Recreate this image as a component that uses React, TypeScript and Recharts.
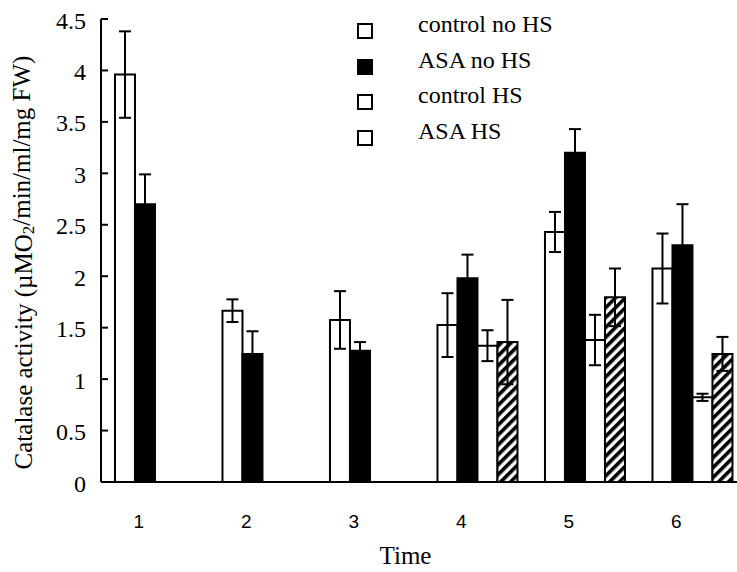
import { BarChart, Bar, XAxis, YAxis, ErrorBar, Legend, Label } from "recharts";

const times = ["1", "2", "3", "4", "5", "6"];
const controlNoHS = [3.96, 1.665, 1.575, 1.525, 2.43, 2.075];
const controlNoHSErr = [0.42, 0.11, 0.28, 0.31, 0.195, 0.34];
const asaNoHS = [2.7, 1.245, 1.275, 1.98, 3.2, 2.3];
const asaNoHSErr = [0.29, 0.22, 0.085, 0.23, 0.23, 0.4];
const controlHS = [null, null, null, 1.325, 1.38, 0.823];
const controlHSErr = [null, null, null, 0.15, 0.245, 0.035];
const asaHS = [null, null, null, 1.36, 1.795, 1.245];
const asaHSErr = [null, null, null, 0.41, 0.28, 0.165];
const yTicks = [0, 0.5, 1, 1.5, 2, 2.5, 3, 3.5, 4, 4.5];

const data = times.map((t, i) => ({
  time: t,
  ctrlNo: controlNoHS[i],
  ctrlNoErr: controlNoHSErr[i],
  asaNo: asaNoHS[i],
  asaNoErr: asaNoHSErr[i],
  ctrlHS: controlHS[i],
  ctrlHSErr: controlHSErr[i],
  asaHS: asaHS[i],
  asaHSErr: asaHSErr[i],
}));

const series = [
  { key: "ctrlNo", err: "ctrlNoErr", name: "control no HS", fill: "#fff", legendFill: "#fff" },
  { key: "asaNo", err: "asaNoErr", name: "ASA no HS", fill: "#000", legendFill: "#000" },
  { key: "ctrlHS", err: "ctrlHSErr", name: "control HS", fill: "#fff", legendFill: "#fff" },
  { key: "asaHS", err: "asaHSErr", name: "ASA HS", fill: "url(#hatch)", legendFill: "#fff" },
];

const serif = "'Liberation Serif', 'Times New Roman', serif";
const sans = "'Liberation Sans', Arial, sans-serif";

function YTick({ x, y, payload }: any) {
  return (
    <g>
      <line x1={x + 15} x2={x + 22} y1={y} y2={y} stroke="#000" strokeWidth={2} />
      <text x={x} y={y} dy="0.4em" textAnchor="end" fontFamily={serif} fontSize={24} fill="#000">
        {payload.value}
      </text>
    </g>
  );
}

function XTick({ x, y, payload }: any) {
  return (
    <text x={x - 16} y={y + 46} textAnchor="middle" fontFamily={sans} fontSize={19} fill="#000">
      {payload.value}
    </text>
  );
}

function YLabel({ viewBox }: any) {
  const cx = viewBox.x + 13;
  const cy = viewBox.y + viewBox.height / 2 + 12;
  return (
    <text
      x={cx}
      y={cy}
      transform={`rotate(-90, ${cx}, ${cy})`}
      textAnchor="middle"
      dominantBaseline="central"
      fontFamily={serif}
      fontSize={25}
      fill="#000"
      style={{ fill: "#000" }}
    >
      Catalase activity (µMO
      <tspan fontSize={17} dy="0.3em">2</tspan>
      <tspan dy="-0.3em">/min/ml/mg FW)</tspan>
    </text>
  );
}

function TimeLabel({ viewBox }: any) {
  return (
    <text
      x={viewBox.x + viewBox.width / 2 - 18}
      y={viewBox.y + 82}
      textAnchor="middle"
      fontFamily={serif}
      fontSize={25}
      fill="#000"
    >
      Time
    </text>
  );
}

function LegendBox() {
  return (
    <div style={{ fontFamily: serif, fontSize: 24, color: "#000" }}>
      {series.map((s) => (
        <div key={s.key} style={{ position: "relative", height: 35.5, width: 230 }}>
          <div
            style={{
              position: "absolute",
              left: 0,
              top: 8,
              width: 12,
              height: 12,
              border: "2px solid #000",
              background: s.legendFill,
            }}
          />
          <div style={{ position: "absolute", left: 61, top: -3, lineHeight: "24px", whiteSpace: "nowrap" }}>
            {s.name}
          </div>
        </div>
      ))}
    </div>
  );
}

export default function App() {
  return (
    <div
      style={{
        position: "absolute",
        left: 0,
        top: 0,
        width: 737,
        height: 572,
        overflow: "hidden",
        background: "#fff",
      }}
    >
      <BarChart
        width={760}
        height={572}
        data={data}
        margin={{ top: 19, right: 14, bottom: 0, left: 10 }}
        barCategoryGap="13%"
        barGap={0}
      >
        <defs>
          <pattern id="hatch" patternUnits="userSpaceOnUse" width={7} height={7} patternTransform="rotate(45)">
            <rect width={7} height={7} fill="#fff" />
            <rect width={3.6} height={7} fill="#000" />
          </pattern>
        </defs>
        <XAxis
          dataKey="time"
          height={90}
          tickLine={false}
          tickSize={0}
          tickMargin={0}
          tick={<XTick />}
          axisLine={{ stroke: "#000", strokeWidth: 2 }}
          interval={0}
        >
          <Label content={<TimeLabel />} />
        </XAxis>
        <YAxis
          width={91}
          domain={[0, 4.5]}
          ticks={yTicks}
          allowDataOverflow
          tickLine={false}
          tickSize={0}
          tickMargin={15}
          tick={<YTick />}
          axisLine={{ stroke: "#000", strokeWidth: 2 }}
          interval={0}
        >
          <Label content={<YLabel />} />
        </YAxis>
        <Legend
          layout="vertical"
          align="center"
          verticalAlign="middle"
          content={<LegendBox />}
          wrapperStyle={{ left: 357, top: 15, width: 240 }}
        />
        {series.map((s) => (
          <Bar
            key={s.key}
            dataKey={s.key}
            name={s.name}
            fill={s.fill}
            stroke="#000"
            strokeWidth={2}
            isAnimationActive={false}
          >
            <ErrorBar dataKey={s.err} width={6} stroke="#000" strokeWidth={2} direction="y" />
          </Bar>
        ))}
      </BarChart>
    </div>
  );
}
